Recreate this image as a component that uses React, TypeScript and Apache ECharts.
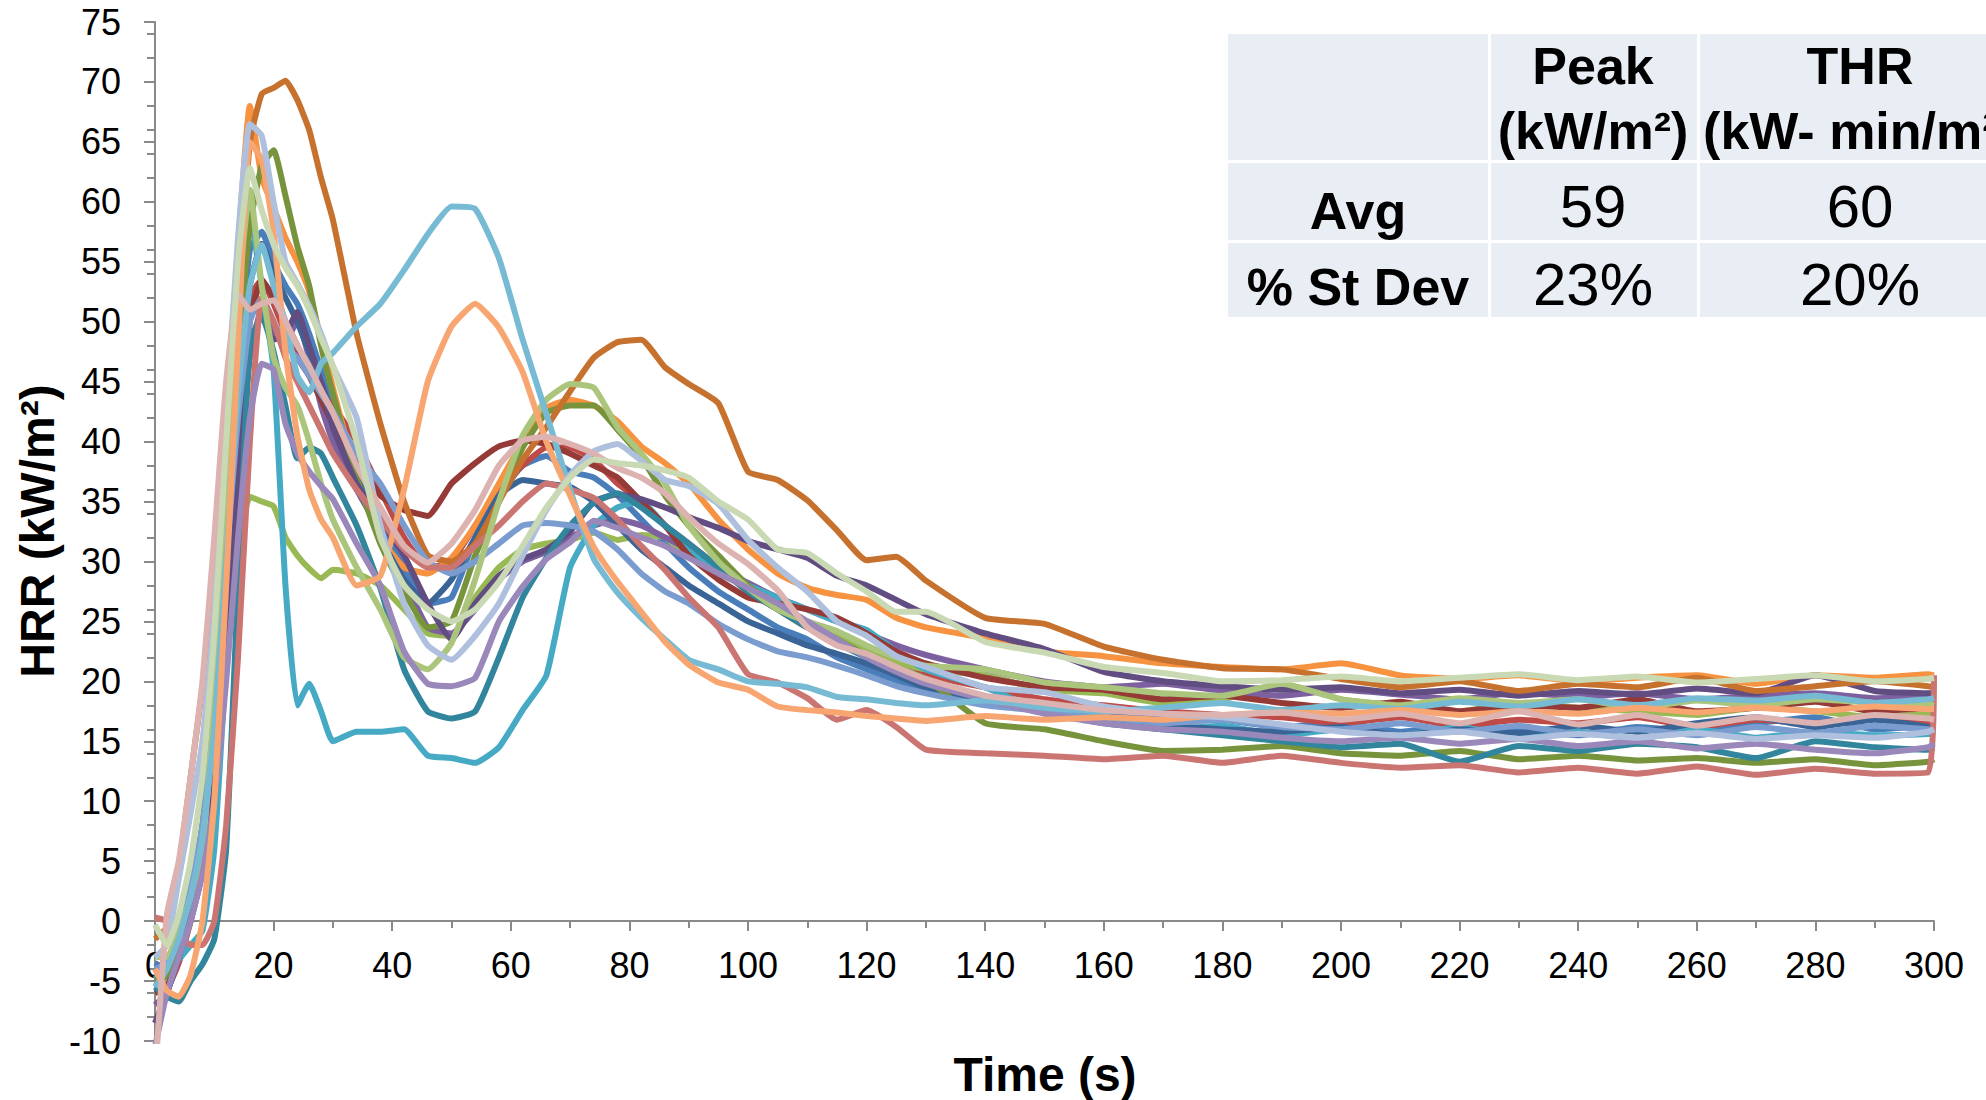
import React, { useEffect, useRef } from "react";
import * as echarts from "echarts";

// Time grid (s)
const T = [0,2,4,6,8,10,12,14,16,18,20,22,24,26,28,30,34,38,42,46,50,54,58,62,66,70,74,78,82,86,90,95,100,105,110,115,120,125,130,140,150,160,170,180,190,200,210,220,230,240,250,260,270,280,290,299,300];

const blue = [-3.5,-4,-1.5,2,7,16,30,45,56,57.5,55,53,51.5,49,46,43,
 38,33.5,29.5,26.5,27,32,35.5,38,38.8,37.5,37,35.5,33.5,31.5,29.5,
 27.5,26,24.5,23.5,22,21,20,19.2,
 18.5,17.8,17.5,17,16.8,16.2,16.5,15.8,16.3,16,15.5,16.2,15.8,16.5,17,16,16.3,16.5];
const red = [-5,-5.5,-3.5,0,5,13,26,41,52,53.5,51.5,49,47,45.5,44,43,
 40,36,32,29.5,30,33,36,38,39.5,39.5,38.5,36.5,35,33,31.5,
 29.5,27.5,26,24.5,23.5,22.5,21.5,20.5,
 19.5,18.5,18,17.5,17.2,17,16.5,17,16.3,16.8,16.5,17,16.2,16.8,16.5,17,16.6,16.8];
const green = [-4.5,-5,-3,0,5,13,22,31,35.4,35,34.6,32,30.5,29.4,28.6,29.3,
 29,28,26,24,23.8,27,29.5,31,31.5,31.8,32.4,31.8,32.2,32,30.5,
 29.5,28,26.5,25,24,22.5,21.5,21,
 20.5,19.3,19,18.2,18.5,19.8,18.5,18,17.5,18.2,17.8,17.5,17.2,17.8,17.5,17,17.3,17.5];
const purple = [-7,-6,-3,0,4,11,22,36,47,51,49,48.5,50,47,43,40,
 36,32.5,28.5,24.5,24,26,28.5,30,30.8,32,33,33.5,33,32,31,
 29.5,28.2,27,26,25,24,23,22.2,
 21,20,19.5,19.8,19.2,18.8,19.3,18.9,18.5,19.1,18.7,19,18.5,18.8,19,18.6,18.8,19];
const aqua = [-4.8,-4,-3.2,-2,-0.8,6,22,44,59,53,46,28,18,19.8,17.5,15,
 15.8,15.8,16,13.8,13.6,13.2,14.5,17.6,20.5,29.5,33,34.5,35,33,31,
 29,28,27,26,25,24.3,22.5,21,
 19.5,17.5,17,16,16.3,15.5,16,15.5,16.2,15.4,15.8,15.2,16,15.3,15.8,15.5,15.6,15.8];
const orange = [-4,-4.5,-1,3,8,20,38,56,68,62,59.5,57,55,52.5,48.5,44.5,
 37,32,29.5,29,30.3,33,36.5,40,42.8,43.5,43,41.7,39.6,38.2,36.5,
 33.5,31,29,27.8,27.2,26.8,25.3,24.5,
 23.6,22.5,22.1,21.5,21.2,21,21.5,20.5,20.2,20.5,20,20.3,20.5,19.8,20.5,20.3,20.6,20.5];
const darkBlue = [-5,-4.5,-2,1,6,14,27,42,53,56.5,54,52,50,47.5,45,42,
 37,32,28.5,26.5,28.5,32,35.5,36.8,36.5,36.2,35,33,31,29.5,28,
 26.5,25,24,23,22.3,21.5,20.5,19.5,
 18.5,17.5,16.8,16.3,16,15.8,16.2,15.5,16,15.7,16.3,15.8,16.5,17,16.2,16.8,16.2,16];
const maroon = [-6,-5.5,-3,1,6,14,25,38,50,53.5,52,50,48,45.5,43.5,41.5,
 38.5,35.5,34.3,33.8,36.5,38.2,39.6,40.1,39.8,39,38,37,35,33,30.5,
 28.5,27,26.5,26,25.3,24,22.5,21.5,
 20.3,19.5,19.3,18.5,18.8,18.2,17.8,18.3,17.5,18,17.8,18.5,17.5,17.8,18.3,17.5,17.8,18];
const olive = [-5,-4.5,-2,2,8,18,32,47,58,63,64.3,60.5,56.3,53,48,44,
 37,31.5,27.5,24.5,25,30.5,35,39.5,42.4,43,43,41,38.7,35.5,33,
 30.5,28,26.3,24.7,23.5,22.2,21.2,20.2,
 16.5,16,15,14.2,14.3,14.6,14,13.8,14.2,13.5,13.8,13.4,13.6,13.2,13.5,13,13.3,13.5];
const darkPurple = [-8.5,-6,-3,0.5,5,12,24,38,48,50.5,48.5,49,50.8,48,44.9,41.2,
 36.5,33.5,30.5,26.5,23.5,26.5,28.8,30.2,31,32.5,35,35.6,35.2,34.5,33.7,
 32.8,31.7,31,30.3,28.8,28,26.8,25.6,
 24,22.7,20.8,20,19.6,19.3,19.5,19,19.3,18.8,19.2,18.9,19.4,19,20.5,19.2,19,19];
const darkTeal = [-5.5,-6.3,-6.7,-5,-3.6,-1.5,6,28,48,50.5,47.5,43,38.6,39.5,39,37,
 33,27.8,21,17.5,16.9,17.5,22,27,30.3,33,34.9,35.7,34.5,33,31.5,
 29.5,27.5,26,24.5,23.2,22,21,20,
 18.5,17.5,16.5,16,15.5,15,14.5,14.8,13.3,14.6,14.2,14.8,14.5,13.6,15,14.5,14.3,14.5];
const brown = [-1.5,-0.5,4.5,12,19.5,27,38,51,65,69,69.5,70.1,68.5,66,62,58.5,
 49,41.5,35,30.5,30,31.5,35,38.5,41.2,44.2,47,48.3,48.5,46.2,44.8,
 43.2,37.5,36.8,35.1,32.6,30.1,30.4,28.4,
 25.3,24.8,22.9,21.8,21.1,21,20.2,19.5,20,19.2,19.8,19.5,20.3,19.2,19.6,20,19.6,19.5];
const lightBlue = [-4,-3.5,-1,3,8,17,30,42,50,52,50,48,47,45.5,44,42.5,
 39,36.5,33,30,29,30,31.5,33,33.2,33,32.5,31,29,27.5,26.5,
 24.8,23.5,22.5,22,21.3,20.5,19.6,19,
 18,17.5,17,16.5,16.8,16.2,16,16.5,15.8,16.3,15.6,16,15.5,16.2,15.7,16.3,16,15.8];
const lightRed = [0.3,0,-1,-2,-2,0,8,22,40,52,50,47,45,43,41,39,
 36,33.5,31,29.5,29.5,31.3,33,35,36.5,36,35.3,33.5,31.3,29.3,27,
 24.5,20.6,19.9,18.6,16.8,17.6,16.2,14.3,
 14,13.8,13.5,13.8,13.2,13.8,13.2,12.8,13,12.4,12.8,12.3,12.9,12.2,12.7,12.3,12.4,20.5];
const lightGreen = [-3,-3,-1,2,6,18,36,52,61,53,47,44.5,43,40,36.5,33.5,
 29.5,26,22,21,23.2,28.5,35,40.5,43.5,44.8,44.5,41.2,39,36.5,33,
 30,27.8,26,25,24.2,23,22,21.3,
 21,19.9,19.5,19,18.8,19.8,18.5,18,18.6,18.2,18.5,17.8,18.4,18,18.5,18.2,18.1,18];
const lightPurple = [-10.5,-6,-3,0,4,10,20,32,42,46.5,46,41.5,39,37.5,36.3,35.2,
 31.5,28,22.5,19.8,19.6,20.3,25,27.9,30.2,31.6,33.4,32.8,32,31.3,30.3,
 29,27.8,26.5,25,23.5,22,20.8,19.8,
 18.5,17.3,16.5,16,15.8,15.3,15,15.3,14.8,15.2,14.6,15,14.4,14.8,14.3,14,14.5,14.8];
const lightAqua = [-5.5,-4,-1.5,2,7,16,30,44,53,56.4,53,50,45.5,44.1,46.5,47.4,
 49.6,51.5,54.3,57.3,59.6,59.4,55.3,48.5,42.3,36,30.2,27.4,25.3,23.5,21.8,
 21,20,19.8,19.5,18.7,18.5,18.2,18,
 18.4,17.8,17.5,17.8,18.2,17.6,18,17.7,18.3,17.9,18.5,18,18.6,18.4,18.8,18.2,18.5,18.6];
const lightOrange = [-4,-5.8,-6.3,-4.5,0,10,28,48,65,63.5,57.5,47.5,40.5,36,33.5,32,
 28,28.8,36,45,49.6,51.5,49.5,45.8,40,35.5,31.2,28.3,25.8,23.3,21.4,
 19.9,19.3,17.9,17.6,17.4,17.1,16.9,16.7,
 17.1,16.8,17,16.8,17.2,17.4,17.3,17.6,17.2,17.5,17.3,17.8,17.4,17.8,17.5,17.9,17.7,17.7];
const lightSteel = [-3,-2,3.5,9,15,26,42,57,66.5,65.5,60,55,53.2,51.3,49,46.3,
 42,33,26.5,23,21.8,23.8,26.5,30.5,34.3,37.2,39.2,39.8,38.4,36.8,36.3,
 34.8,31.8,29.5,27.5,25,23.8,22.1,21.2,
 19.5,19.1,17.9,17.3,17,16.4,15.8,15.5,15.8,15.2,15.6,15.3,15.7,15.2,15.5,15.3,15.8,16];
const pink = [-13,0.5,5,12,20,32,45,52.3,51,51.5,51.8,50,48,46.3,44.3,42.4,
 38,34.5,31.3,29.9,31.5,34.3,38,40.1,40.4,39.8,39,37.8,37,35.7,33.7,
 31.5,29.8,27.6,24.5,23,22.3,21.2,20.2,
 18.8,18.2,17.6,17.3,17.2,17.4,16.8,17.3,16.5,17.5,16.4,17.2,16.3,17,16.5,17.2,16.9,16.8];
const paleGreen = [-0.3,-2,0.5,5,12,24,40,55,62.8,59.3,56.5,54.5,53,51,48.6,46.3,
 40,32,28,26,25,26,28.3,31.3,34.5,37,38.5,38.2,38,37.6,37,
 35,33.5,31,30.7,29,27.5,25.8,25.8,
 23.3,22.4,21.2,20.7,20,20.1,20.4,20,20.3,20.6,20.1,20.4,19.9,20.2,20.5,20,20.2,20.3];

const SERIES = [
  { name: "1", color: "#4A7EBB", values: blue },
  { name: "2", color: "#BE4B48", values: red },
  { name: "3", color: "#98B954", values: green },
  { name: "4", color: "#7D60A0", values: purple },
  { name: "5", color: "#46AAC5", values: aqua },
  { name: "6", color: "#F69240", values: orange },
  { name: "7", color: "#3B6496", values: darkBlue },
  { name: "8", color: "#963A37", values: maroon },
  { name: "9", color: "#77933C", values: olive },
  { name: "10", color: "#624D82", values: darkPurple },
  { name: "11", color: "#31859C", values: darkTeal },
  { name: "12", color: "#C6722E", values: brown },
  { name: "13", color: "#7A9CCF", values: lightBlue },
  { name: "14", color: "#CB7573", values: lightRed },
  { name: "15", color: "#ABC67C", values: lightGreen },
  { name: "16", color: "#9A88BA", values: lightPurple },
  { name: "17", color: "#76BAD3", values: lightAqua },
  { name: "18", color: "#F8A671", values: lightOrange },
  { name: "19", color: "#AEC0DD", values: lightSteel },
  { name: "20", color: "#DDB3B1", values: pink },
  { name: "21", color: "#C9D9B4", values: paleGreen },
];

// Table content
const TABLE_HEAD = [["", ""], ["Peak", "(kW/m²)"], ["THR", "(kW- min/m²)"]];
const TABLE_ROWS = [
  ["Avg", "59", "60"],
  ["% St Dev", "23%", "20%"],
];

const FONT = '"Liberation Sans", Arial, Helvetica, sans-serif';
const AXIS_GRAY = "#898989";
const LINE_W = 6;

export default function App() {
  const ref = useRef<HTMLDivElement>(null);
  useEffect(() => {
    if (!ref.current) return;
    const chart = echarts.init(ref.current, null, { renderer: "svg" });

    const colX = [1228, 1491, 1700];
    const colW = [260, 206, 340];
    const colC = [1358, 1593, 1860];
    const rowY = [34, 163, 243];
    const rowH = [126, 77, 74];

    const txt = (x: number, y: number, text: string, font: string, rot = 0) => ({
      type: "text",
      x,
      y,
      rotation: rot,
      z: 10,
      style: {
        text,
        font,
        fill: "#000",
        align: "center",
        verticalAlign: "middle",
        textAlign: "center",
        textVerticalAlign: "middle",
      },
    });

    const graphic: any[] = [];
    for (let r = 0; r < 3; r++) {
      for (let c = 0; c < 3; c++) {
        graphic.push({
          type: "rect",
          z: 5,
          shape: { x: colX[c], y: rowY[r], width: colW[c], height: rowH[r] },
          style: { fill: "#E9EDF4" },
        });
      }
    }
    const headBold = `bold 52px ${FONT}`;
    const valFont = `60px ${FONT}`;
    for (let c = 1; c < 3; c++) {
      graphic.push(txt(colC[c], 66, TABLE_HEAD[c][0], headBold));
      graphic.push(txt(colC[c], 131, TABLE_HEAD[c][1], headBold));
    }
    const rowMid = [[211, 206], [287, 284]];
    TABLE_ROWS.forEach((row, r) => {
      graphic.push(txt(colC[0], rowMid[r][0], row[0], headBold));
      graphic.push(txt(colC[1], rowMid[r][1], row[1], valFont));
      graphic.push(txt(colC[2], rowMid[r][1], row[2], valFont));
    });
    graphic.push(txt(37, 531, "HRR (kW/m²)", `bold 48px ${FONT}`, Math.PI / 2));
    graphic.push(txt(1045, 1074, "Time (s)", `bold 48px ${FONT}`));

    chart.setOption({
      animation: false,
      backgroundColor: "#ffffff",
      grid: { left: 155, right: 52, top: 22, bottom: 59, containLabel: false },
      xAxis: {
        type: "value",
        min: 0,
        max: 300,
        interval: 20,
        position: "bottom",
        offset: -120,
        axisLine: { show: true, onZero: false, lineStyle: { color: AXIS_GRAY, width: 2 } },
        axisTick: { show: true, length: 10, lineStyle: { color: AXIS_GRAY, width: 2 } },
        minorTick: { show: true, splitNumber: 2, length: 7, lineStyle: { color: AXIS_GRAY, width: 2 } },
        axisLabel: { fontSize: 36, color: "#000", fontFamily: FONT, margin: 26 },
        splitLine: { show: false },
        minorSplitLine: { show: false },
      },
      yAxis: [
        {
          type: "value",
          min: -10,
          max: 75,
          interval: 5,
          axisLine: { show: true, lineStyle: { color: AXIS_GRAY, width: 2 } },
          axisTick: { show: true, length: 11, lineStyle: { color: AXIS_GRAY, width: 2 } },
          axisLabel: { fontSize: 36, color: "#000", fontFamily: FONT, margin: 34 },
          splitLine: { show: false },
        },
        {
          type: "value",
          min: -10,
          max: 75,
          interval: 2,
          position: "left",
          axisLine: { show: false },
          axisTick: { show: true, length: 8, lineStyle: { color: AXIS_GRAY, width: 2 } },
          axisLabel: { show: false },
          splitLine: { show: false },
        },
      ],
      series: SERIES.map((s) => ({
        type: "line",
        name: s.name,
        yAxisIndex: 0,
        data: T.map((t, i) => [t, s.values[i]]),
        symbol: "none",
        showSymbol: false,
        smooth: 0.15,
        clip: true,
        lineStyle: { color: s.color, width: LINE_W },
        emphasis: { disabled: true },
      })),
      graphic,
    });
    return () => chart.dispose();
  }, []);
  return (
    <div
      ref={ref}
      style={{ position: "fixed", left: 0, top: 0, width: 1986, height: 1100, background: "#fff" }}
    />
  );
}
